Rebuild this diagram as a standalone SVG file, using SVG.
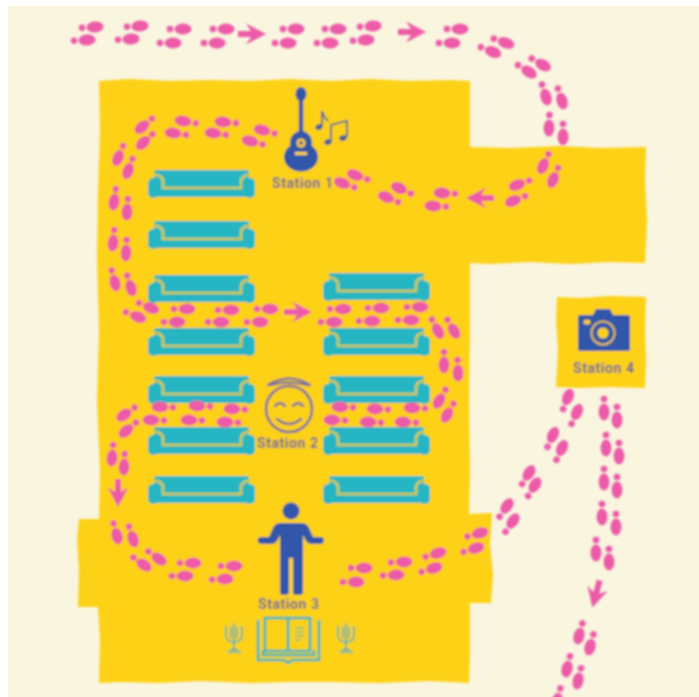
<svg xmlns="http://www.w3.org/2000/svg" width="699" height="697" viewBox="0 0 699 697">
<style>
.floor{fill:#fdd116}
.t{font-family:"Roboto","Liberation Sans",sans-serif;font-weight:700;font-size:14px;fill:#6d6790;letter-spacing:.55px}
.p{fill:#ed5aa8}
.sofa{fill:#26b5c2}
.sl{fill:none;stroke:#d2c94a;stroke-width:2.6}
.blue{fill:#3156aa}
.note{fill:none;stroke:#4c5f94;stroke-width:1.8}
.face{fill:none;stroke:#7b7097;stroke-width:2.6;stroke-linecap:round}
.bk{fill:none;stroke:#2bb4bb;stroke-width:2.6}
.can{fill:none;stroke:#44aeb0;stroke-width:1.6}
</style>
<defs>
<filter id="soft" x="-5%" y="-5%" width="110%" height="110%"><feGaussianBlur stdDeviation="0.9"/></filter>
<g id="f"><ellipse cx="0" cy="0" rx="8.500" ry="5.400"/><circle cx="-13" cy="0" r="3.300"/></g>
<path id="a" d="M-14,-3H-1L-6,-10.500L14,0L-6,10.500L-1,3H-14Z"/>
<g id="s">
<rect x="6" y="0" width="95" height="20" rx="2" class="sofa"/>
<rect x="0" y="8" width="11" height="20" rx="5" class="sofa"/>
<rect x="96" y="8" width="11" height="20" rx="5" class="sofa"/>
<rect x="3" y="20" width="101" height="7" rx="2" class="sofa"/>
<path d="M6,4.500C12,5 15,8 15,12V18H93V12C93,8 96,5 102,4.500" class="sl"/>
</g>
<g id="c">
<path d="M0,-15V11M-8,-12V-3Q-8,4 0,4Q8,4 8,-3V-12M-3,-11V0M3,-11V0M-7,14H7M-4,11.500H4" class="can"/>
</g>
</defs>
<rect width="699" height="697" fill="#fff"/>
<rect x="8" y="6" width="691" height="691" fill="#f9f5df"/>
<g filter="url(#soft)">
<g id="floor">
<path class="floor" d="M99,81L130,79L170,81L210,80L250,81L290,79L330,81L370,79L410,81L450,80L470,81L470,147L510,148L560,146L600,148L646,147L645,180L647,220L645,263L610,262L570,264L530,262L490,264L470,263L470,330L469,400L470,470L469,514L492,513L490,545L493,575L491,603L470,603L470,650L469,683L430,681L380,683L330,682L290,682L250,683L200,681L160,683L120,682L99,683L100,640L98,607L78,607L79,570L77,540L79,519L99,519L100,470L97,400L99,330L97,260L98,190L100,130Z"/>
</g>
<g id="seating">
<use href="#s" x="148" y="170"/><use href="#s" x="148" y="221"/><use href="#s" x="148" y="275"/><use href="#s" x="148" y="328"/><use href="#s" x="148" y="376"/><use href="#s" x="148" y="427"/><use href="#s" x="148" y="476"/>
<use href="#s" x="323" y="273"/><use href="#s" x="323" y="328"/><use href="#s" x="323" y="376"/><use href="#s" x="323" y="427"/><use href="#s" x="323" y="476"/>
</g>
<g id="connectors" class="p">
<use href="#f" transform="translate(95 27) rotate(-3)"/><use href="#f" transform="translate(87 40) rotate(-3)"/>
<use href="#f" transform="translate(140 26) rotate(-3)"/><use href="#f" transform="translate(131 39) rotate(-3)"/>
<use href="#f" transform="translate(183 29)"/><use href="#f" transform="translate(173 43)"/>
<use href="#f" transform="translate(226 29)"/><use href="#f" transform="translate(217 43)"/>
<use href="#a" transform="translate(252 34)"/>
<use href="#f" transform="translate(296 29)"/><use href="#f" transform="translate(288 43)"/>
<use href="#f" transform="translate(338 29)"/><use href="#f" transform="translate(330 43)"/>
<use href="#f" transform="translate(373 26) rotate(-3)"/><use href="#f" transform="translate(366 40) rotate(-3)"/>
<use href="#a" transform="translate(412 32)"/>
<use href="#f" transform="translate(460 29)"/><use href="#f" transform="translate(452 43)"/>
<use href="#f" transform="translate(506 43) rotate(20)"/><use href="#f" transform="translate(493 52) rotate(22)"/>
<use href="#f" transform="translate(543 65) rotate(30)"/><use href="#f" transform="translate(529 72) rotate(32)"/>
<use href="#f" transform="translate(562 101) rotate(72)"/><use href="#f" transform="translate(546 97) rotate(72)"/>
<use href="#f" transform="translate(563 137) rotate(90)"/><use href="#f" transform="translate(549 128) rotate(92)"/>
<use href="#f" transform="translate(543 166) rotate(115)"/><use href="#f" transform="translate(553 180) rotate(113)"/>
<use href="#f" transform="translate(517 185) rotate(160)"/><use href="#f" transform="translate(513 201) rotate(158)"/>
<use href="#a" transform="translate(480 198) rotate(180)"/>
<use href="#f" transform="translate(442 193) rotate(183)"/><use href="#f" transform="translate(433 206) rotate(183)"/>
<use href="#f" transform="translate(399 188) rotate(205)"/><use href="#f" transform="translate(386 197) rotate(203)"/>
<use href="#f" transform="translate(355 175) rotate(200)"/><use href="#f" transform="translate(342 183) rotate(200)"/>
<use href="#f" transform="translate(262 130) rotate(195)"/><use href="#f" transform="translate(250 141) rotate(195)"/>
<use href="#f" transform="translate(223 122) rotate(185)"/><use href="#f" transform="translate(213 133) rotate(188)"/>
<use href="#f" transform="translate(183 121) rotate(190)"/><use href="#f" transform="translate(173 133) rotate(188)"/>
<use href="#f" transform="translate(142 127) rotate(140)"/><use href="#f" transform="translate(143 143) rotate(137)"/>
<use href="#f" transform="translate(118 158) rotate(113)"/><use href="#f" transform="translate(128 171) rotate(110)"/>
<use href="#f" transform="translate(114 202) rotate(98)"/><use href="#f" transform="translate(127 212) rotate(94)"/>
<use href="#f" transform="translate(113 243) rotate(95)"/><use href="#f" transform="translate(126 253) rotate(93)"/>
<use href="#f" transform="translate(115 283) rotate(75)"/><use href="#f" transform="translate(131 288) rotate(73)"/>
<use href="#f" transform="translate(151 308) rotate(23)"/><use href="#f" transform="translate(138 317) rotate(22)"/>
<use href="#f" transform="translate(187 309)"/><use href="#f" transform="translate(177 322)"/>
<use href="#f" transform="translate(231 310)"/><use href="#f" transform="translate(221 322)"/>
<use href="#f" transform="translate(270 309)"/><use href="#f" transform="translate(260 322)"/>
<use href="#a" transform="translate(298 312)"/>
<use href="#f" transform="translate(343 309)"/><use href="#f" transform="translate(334 322)"/>
<use href="#f" transform="translate(381 308)"/><use href="#f" transform="translate(372 321)"/>
<use href="#f" transform="translate(420 307)"/><use href="#f" transform="translate(411 320)"/>
<use href="#f" transform="translate(454 331) rotate(60)"/><use href="#f" transform="translate(438 331) rotate(62)"/>
<use href="#f" transform="translate(444 365) rotate(90)"/><use href="#f" transform="translate(458 373) rotate(88)"/>
<use href="#f" transform="translate(439 401) rotate(120)"/><use href="#f" transform="translate(447 415) rotate(120)"/>
<use href="#f" transform="translate(412 408) rotate(182)"/><use href="#f" transform="translate(403 422) rotate(182)"/>
<use href="#f" transform="translate(375 409) rotate(182)"/><use href="#f" transform="translate(368 422) rotate(182)"/>
<use href="#f" transform="translate(340 407) rotate(182)"/><use href="#f" transform="translate(332 420) rotate(182)"/>
<use href="#f" transform="translate(232 409) rotate(182)"/><use href="#f" transform="translate(225 422) rotate(182)"/>
<use href="#f" transform="translate(197 406) rotate(182)"/><use href="#f" transform="translate(189 420) rotate(182)"/>
<use href="#f" transform="translate(160 407) rotate(182)"/><use href="#f" transform="translate(151 420) rotate(182)"/>
<use href="#f" transform="translate(124 415) rotate(145)"/><use href="#f" transform="translate(126 431) rotate(140)"/>
<use href="#f" transform="translate(112 458) rotate(95)"/><use href="#f" transform="translate(124 467) rotate(93)"/>
<use href="#a" transform="translate(118 493) rotate(90)"/>
<use href="#f" transform="translate(117 536) rotate(75)"/><use href="#f" transform="translate(133 539) rotate(72)"/>
<use href="#f" transform="translate(159 559) rotate(35)"/><use href="#f" transform="translate(144 565) rotate(35)"/>
<use href="#f" transform="translate(193 563)"/><use href="#f" transform="translate(185 576)"/>
<use href="#f" transform="translate(234 566)"/><use href="#f" transform="translate(225 579) rotate(-2)"/>
<use href="#f" transform="translate(364 568)"/><use href="#f" transform="translate(356 582)"/>
<use href="#f" transform="translate(404 562) rotate(-2)"/><use href="#f" transform="translate(396 575) rotate(-2)"/>
<use href="#f" transform="translate(438 553) rotate(-17)"/><use href="#f" transform="translate(434 568) rotate(-17)"/>
<use href="#f" transform="translate(480 533) rotate(-15)"/><use href="#f" transform="translate(476 548) rotate(-17)"/>
<use href="#f" transform="translate(507 506) rotate(-55)"/><use href="#f" transform="translate(513 521) rotate(-55)"/>
<use href="#f" transform="translate(529 473) rotate(-58)"/><use href="#f" transform="translate(535 485) rotate(-58)"/>
<use href="#f" transform="translate(553 435) rotate(-65)"/><use href="#f" transform="translate(562 448) rotate(-65)"/>
<use href="#f" transform="translate(568 397) rotate(-68)"/><use href="#f" transform="translate(577 412) rotate(-65)"/>
<use href="#f" transform="translate(604 412) rotate(90)"/><use href="#f" transform="translate(617 420) rotate(90)"/>
<use href="#f" transform="translate(606 448) rotate(90)"/><use href="#f" transform="translate(619 456) rotate(90)"/>
<use href="#f" transform="translate(604 482) rotate(90)"/><use href="#f" transform="translate(617 490) rotate(90)"/>
<use href="#f" transform="translate(602 517) rotate(90)"/><use href="#f" transform="translate(616 527) rotate(90)"/>
<use href="#f" transform="translate(596 553) rotate(90)"/><use href="#f" transform="translate(609 562) rotate(90)"/>
<use href="#a" transform="translate(596 594) rotate(105)"/>
<use href="#f" transform="translate(579 636) rotate(105)"/><use href="#f" transform="translate(590 647) rotate(105)"/>
<use href="#f" transform="translate(567 669) rotate(103)"/><use href="#f" transform="translate(578 681) rotate(103)"/>
<use href="#f" transform="translate(557 701) rotate(105)"/>
</g>
<g id="station-1">
<ellipse cx="301" cy="94" rx="5.500" ry="7" class="blue"/>
<rect x="298.800" y="98" width="4.400" height="40" class="blue"/>
<ellipse cx="301" cy="143" rx="11" ry="12" class="blue"/>
<ellipse cx="301" cy="157" rx="17" ry="14.500" class="blue"/>
<circle cx="301" cy="143" r="4.500" fill="#fdd116"/><circle cx="301" cy="143" r="2" class="blue"/>
<rect x="295" y="152" width="12" height="3" fill="#fdd116"/>
<ellipse cx="319" cy="127" rx="3.800" ry="2.800" fill="#4c5f94" transform="rotate(-25 319 127)"/>
<path d="M322,126V111Q323,116 328,121" class="note"/>
<ellipse cx="328" cy="142" rx="3.800" ry="2.800" fill="#4c5f94" transform="rotate(-20 328 142)"/>
<ellipse cx="343" cy="138" rx="3.800" ry="2.800" fill="#4c5f94" transform="rotate(-20 343 138)"/>
<path d="M331,141V125L347,121V137" class="note"/>
<text class="t" x="272" y="188">Station 1</text>
</g>
<g id="station-2">
<circle cx="289" cy="409" r="23" class="face"/>
<path d="M268,385Q289,372 310,385M270,385Q289,380 308,385" class="face"/>
<path d="M275,406Q280,400 285,406M293,406Q298,400 303,406M277,419Q289,429 301,419" class="face"/>
<text class="t" x="257" y="448">Station 2</text>
</g>
<g id="station-3">
<circle cx="291" cy="511" r="8.500" class="blue"/>
<path class="blue" d="M281,523H301Q307,523 309,528L313,537L322,537Q326,540 322,544H312Q308,544 306,541L303,535V592Q303,595 299,595H296Q293,595 293,592V558H289V592Q289,595 285,595H283Q280,595 280,592V535L277,541Q275,544 271,544H260Q255,540 260,537H269L273,528Q275,523 281,523Z"/>
<text class="t" x="258" y="609">Station 3</text>
<path d="M265,618H310V651H265ZM288,618V651M258,620V660H284L288,663L292,660H319V620M263,650V655H314V650" class="bk"/>
<path d="M295,628H304M295,632H304M295,636H304M295,640H301" fill="none" stroke="#6fb98f" stroke-width="1.500"/>
<use href="#c" x="234" y="638"/><use href="#c" x="346" y="638"/>
</g>
<g id="station-4">
<path class="floor" d="M557,297L580,298L610,296L646,297L645,330L646,360L645,388L610,387L580,388L556,387L558,350L556,320Z"/>
<path class="blue" d="M578,317Q578,315 580,315H593L596,309H610L613,315H628Q630,315 630,317V349Q630,351 628,351H580Q578,351 578,349Z"/>
<circle cx="603" cy="333" r="11.500" fill="none" stroke="#fdd116" stroke-width="1.600"/>
<circle cx="603" cy="333" r="5.500" fill="#fdd116"/>
<ellipse cx="587" cy="322" rx="3.500" ry="2.500" fill="#fdd116"/>
<text class="t" x="573" y="373">Station 4</text>
</g>
</g>
</svg>
